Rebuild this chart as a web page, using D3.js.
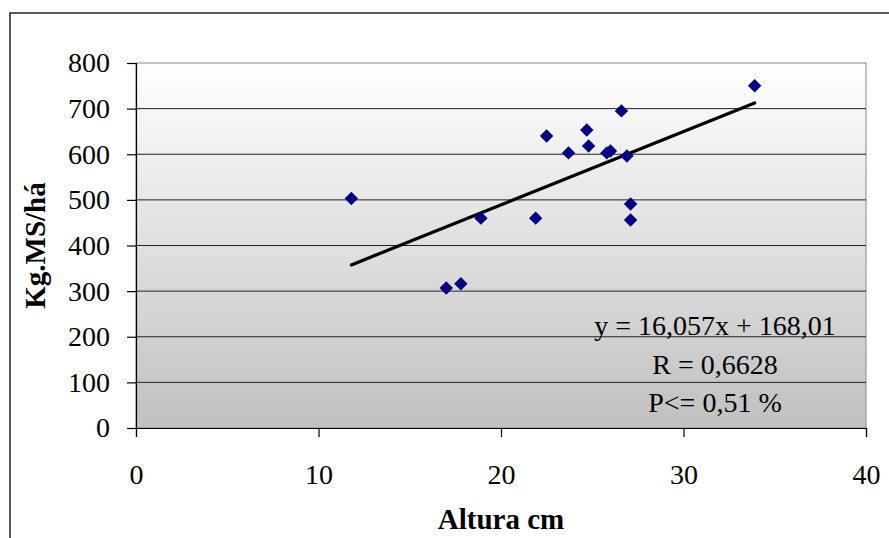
<!DOCTYPE html>
<html>
<head>
<meta charset="utf-8">
<script src="https://cdnjs.cloudflare.com/ajax/libs/d3/7.8.5/d3.min.js"></script>
<style>
	body { margin: 0; background: #fff; }
	text { font-family: "Liberation Serif", "Times New Roman", serif; fill: #000; }
</style>
</head>
<body>
<svg id="chartsvg" width="889" height="538"></svg>
<script>
// data
var altura = [11.8, 17.0, 17.8, 18.9, 21.9, 22.5, 23.7, 24.7, 24.8, 25.8, 26.0, 26.6, 26.9, 27.1, 27.1, 33.9];
var kgms   = [503, 307, 316, 460, 460, 640, 603, 653, 618, 603, 607, 695, 596, 491, 456, 750];
var xTicks = [0, 10, 20, 30, 40];
var yTicks = [0, 100, 200, 300, 400, 500, 600, 700, 800];
var slope = 16.057, intercept = 168.01;
var statLabels = ["y = 16,057x + 168,01", "R = 0,6628", "P<= 0,51 %"];

var margin = {top: 63, left: 136, right: 23, bottom: 110},
	width = 889 - margin.left - margin.right,
	height = 538 - margin.top - margin.bottom;

var svg = d3.select("#chartsvg");

// outer chart border (only top and left visible)
svg.append("path")
	.attr("d", "M10,538 L10,13 L889,13")
	.attr("fill", "none")
	.attr("stroke", "#222")
	.attr("stroke-width", 1.5);

var grad = svg.append("defs").append("linearGradient")
	.attr("id", "bg")
	.attr("x1", 0).attr("y1", 0).attr("x2", 0).attr("y2", 1);
grad.append("stop").attr("offset", "0%").attr("stop-color", "#ffffff");
grad.append("stop").attr("offset", "100%").attr("stop-color", "#c0c0c0");

var g = svg.append("g")
	.attr("transform", "translate(" + margin.left + ", " + margin.top + ")");

var x = d3.scaleLinear().domain([0, 40]).range([0, width]);
var y = d3.scaleLinear().domain([0, 800]).range([height, 0]);

g.append("rect")
	.attr("width", width)
	.attr("height", height)
	.attr("fill", "url(#bg)")
	.attr("stroke", "#8a8a8a")
	.attr("stroke-width", 1);

// gridlines
g.selectAll(".grid")
	.data(yTicks.filter(function(d) { return d > 0 && d < 800; }))
	.enter()
	.append("line")
	.attr("class", "grid")
	.attr("x1", 0)
	.attr("x2", width)
	.attr("y1", function(d) { return y(d); })
	.attr("y2", function(d) { return y(d); })
	.attr("stroke", "#222")
	.attr("stroke-width", 1);

var yAxis = g.append("g")
	.call(d3.axisLeft(y).tickValues(yTicks).tickSize(9).tickPadding(17).tickFormat(d3.format("d")));
var xAxis = g.append("g")
	.attr("transform", "translate(0," + height + ")")
	.call(d3.axisBottom(x).tickValues(xTicks).tickSize(9).tickPadding(27).tickFormat(d3.format("d")));

[xAxis, yAxis].forEach(function(a) {
	a.select(".domain").attr("stroke", "#000").attr("stroke-width", 1.2);
	a.selectAll(".tick line").attr("stroke", "#000").attr("stroke-width", 1.2);
	a.selectAll("text")
		.style("font-family", "'Liberation Serif', serif")
		.style("font-size", "28px")
		.attr("fill", "#000");
});
xAxis.selectAll("text").attr("dy", "0.71em");

// trend line from min to max x
var xmin = d3.min(altura), xmax = d3.max(altura);
g.append("line")
	.attr("x1", x(xmin))
	.attr("y1", y(slope * xmin + intercept))
	.attr("x2", x(xmax))
	.attr("y2", y(slope * xmax + intercept))
	.attr("stroke", "#000")
	.attr("stroke-width", 3.2)
	.attr("stroke-linecap", "round");

var diamond = d3.symbol().type(d3.symbolSquare).size(90);
g.selectAll(".pt")
	.data(altura)
	.enter()
	.append("path")
	.attr("class", "pt")
	.attr("d", diamond)
	.attr("transform", function(d, i) { return "translate(" + x(d) + "," + y(kgms[i]) + ") rotate(45)"; })
	.attr("fill", "#000080");

// regression text
g.selectAll(".stat")
	.data(statLabels)
	.enter()
	.append("text")
	.attr("class", "stat")
	.attr("x", 715 - margin.left)
	.attr("y", function(d, i) { return 335 - margin.top + i * 38.5; })
	.attr("text-anchor", "middle")
	.style("font-size", "28px")
	.text(function(d) { return d; });

svg.append("text")
	.attr("x", margin.left + width / 2)
	.attr("y", 529)
	.attr("text-anchor", "middle")
	.style("font-size", "29px")
	.style("font-weight", "bold")
	.text("Altura cm");

svg.append("text")
	.attr("transform", "translate(45," + (margin.top + height / 2) + ") rotate(-90)")
	.attr("text-anchor", "middle")
	.style("font-size", "29px")
	.style("font-weight", "bold")
	.text("Kg.MS/há");
</script>
</body>
</html>
